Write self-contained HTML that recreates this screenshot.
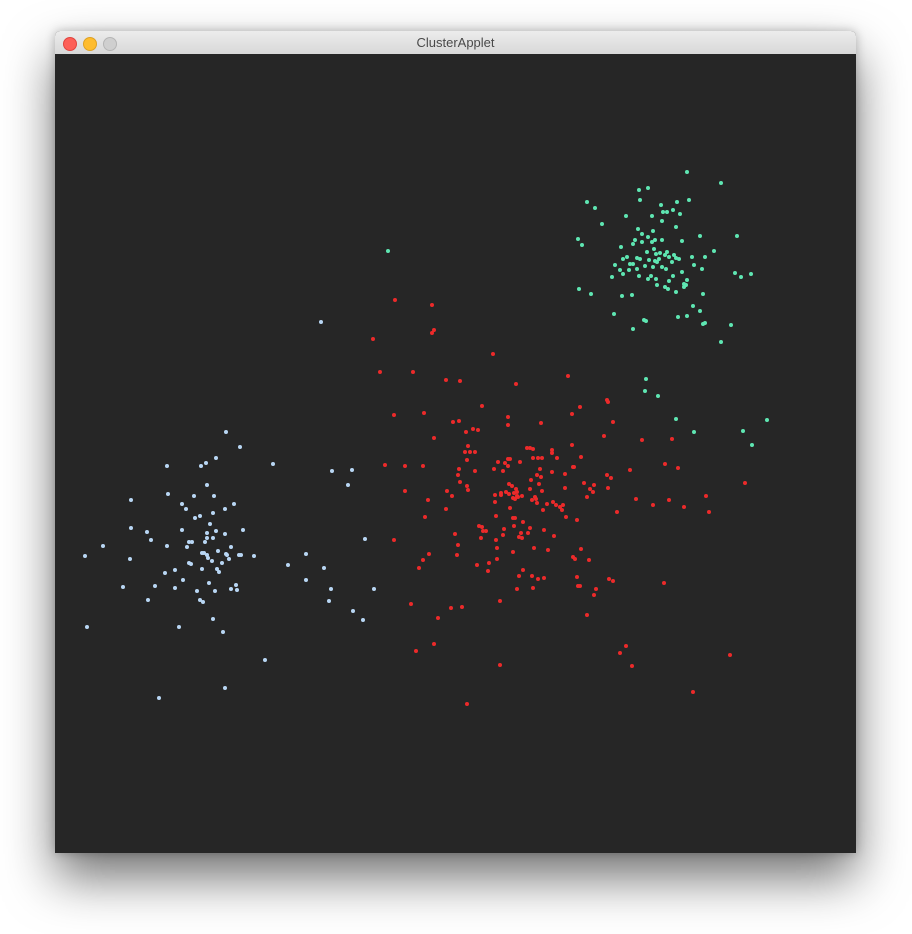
<!DOCTYPE html>
<html><head><meta charset="utf-8">
<style>
html,body{margin:0;padding:0;background:#fff;width:912px;height:934px;overflow:hidden;font-family:"Liberation Sans",sans-serif}
#win{position:absolute;left:55px;top:31px;width:801px;height:822px;box-shadow:0 25px 50px rgba(0,0,0,0.55),0 0 10px rgba(0,0,0,0.25);border-radius:5px 5px 0 0;overflow:hidden;background:#262626}
#title{position:absolute;left:0;top:0;width:801px;height:23px;background:linear-gradient(#ececec,#d8d8d8);border-bottom:1px solid #b8b8b8;text-align:center;font-size:13px;line-height:24px;color:#4a4a4a}
.tl{position:absolute;top:6px;width:12px;height:12px;border-radius:50%}
#canvas{position:absolute;left:0;top:23px;width:801px;height:799px;background:#262626}
#plot{position:absolute;left:1px;top:0}
</style></head><body>
<div id="win">
  <div id="title">ClusterApplet
    <div class="tl" style="left:8px;background:#fd5f57;border:0.5px solid #e0443e"></div>
    <div class="tl" style="left:28px;background:#febc2e;border:0.5px solid #dea123"></div>
    <div class="tl" style="left:48px;background:#cfcfcf;border:0.5px solid #b5b5b5"></div>
  </div>
  <div id="canvas">
    <svg id="plot" width="800" height="799"></svg>
  </div>
</div>
<script>
const greenX=[687,721,639,648,587,595,640,661,677,689,663,667,673,680,626,652,602,662,676,638,653,642,578,582,635,648,655,662,682,700,737,633,642,652,621,654,647,656,660,667,665,674,714,627,623,637,640,649,659,669,676,679,692,705,615,630,633,645,653,655,657,672,662,666,694,702,620,629,637,623,612,639,651,648,656,673,682,669,687,684,686,684,657,665,668,676,735,741,751,579,591,622,632,703,693,700,614,644,646,678,687,703,705,731,633,721,646,645,658,676,694,743,752,767,388];
const greenY=[172,183,190,188,202,208,200,205,202,200,212,212,210,214,216,216,224,221,227,229,231,234,239,245,240,237,240,240,241,236,236,244,242,242,247,249,252,254,253,252,255,255,251,257,259,258,259,260,259,257,258,259,257,257,265,264,264,266,267,261,262,262,267,269,265,269,270,270,269,274,277,276,276,279,279,276,272,281,280,284,285,287,285,287,289,292,273,277,274,289,294,296,295,294,306,311,314,320,321,317,316,324,323,325,329,342,379,391,396,419,432,431,445,420,251];
const blueX=[321,226,240,167,201,206,216,273,332,352,348,207,131,168,194,214,182,186,225,234,195,200,213,131,147,151,182,210,216,225,243,207,207,213,205,189,192,103,167,187,231,365,85,130,202,204,207,218,226,227,229,239,241,254,208,212,222,189,191,165,175,202,217,219,288,306,324,306,123,155,183,175,197,209,215,231,236,237,331,374,329,148,200,203,353,363,87,179,213,223,265,225,159];
const blueY=[322,432,447,466,466,463,458,464,471,470,485,485,500,494,496,496,504,509,509,504,518,516,513,528,532,540,530,524,531,534,530,533,538,538,542,542,542,546,546,547,547,539,556,559,553,553,555,551,554,555,559,555,555,556,558,561,563,563,564,573,570,569,569,572,565,554,568,580,587,586,580,588,591,583,591,589,585,590,589,589,601,600,600,602,611,620,627,627,619,632,660,688,698];
const redX=[395,432,434,432,373,493,380,413,446,460,516,568,482,580,394,424,453,459,473,478,466,508,508,541,572,607,608,613,604,642,672,434,468,465,470,475,467,527,530,533,552,552,572,385,405,423,459,458,460,475,498,505,508,510,508,520,494,503,533,538,542,557,581,540,537,541,552,565,573,574,630,665,678,745,607,611,531,539,509,512,530,542,584,594,590,593,608,565,587,405,447,452,467,468,428,495,501,501,506,509,514,516,517,517,513,515,518,522,495,532,535,536,537,547,553,556,560,563,562,543,510,636,653,669,684,706,709,617,446,425,496,513,515,566,577,523,514,530,544,479,482,483,486,504,521,528,503,519,522,554,481,455,394,496,458,497,513,534,548,581,429,457,423,497,573,575,589,419,477,489,488,523,519,532,538,544,517,533,577,578,580,609,613,596,594,664,500,411,451,462,587,438,434,416,500,626,620,632,730,693,467];
const redY=[300,305,330,333,339,354,372,372,380,381,384,376,406,407,415,413,422,421,429,430,432,417,425,423,414,400,402,422,436,440,439,438,446,452,452,452,460,448,448,449,450,453,445,465,466,466,469,475,482,471,462,463,459,459,466,462,469,471,458,458,458,458,457,469,475,477,472,474,467,467,470,464,468,483,475,478,480,484,484,486,489,491,483,485,489,492,488,488,497,491,491,496,486,490,500,495,493,495,492,494,493,489,492,496,498,499,497,496,502,500,497,499,503,504,502,505,507,505,510,510,508,499,505,500,507,496,512,512,509,517,516,518,518,517,520,522,526,528,530,526,527,531,531,529,533,533,535,537,538,536,538,534,540,540,545,548,552,548,550,549,554,555,560,559,557,559,560,568,565,563,571,570,576,576,579,578,589,588,577,586,586,579,581,589,595,583,601,604,608,607,615,618,644,651,665,646,653,666,655,692,704];

const sx=v=>v-56, sy=v=>v-54;
const svg=document.getElementById('plot');
const NS='http://www.w3.org/2000/svg';
function drawSeries(xs,ys,color,name){
  const g=document.createElementNS(NS,'g');
  
  
  for(let i=0;i<xs.length;i++){
    const c=document.createElementNS(NS,'circle');
    c.setAttribute('cx',sx(xs[i]));
    c.setAttribute('cy',sy(ys[i]));
    c.setAttribute('r',2);
    c.setAttribute('fill',color);
    
    
    g.appendChild(c);
  }
  svg.appendChild(g);
}
drawSeries(redX,redY,'#ec2a2a','red');
drawSeries(blueX,blueY,'#b8d6f4','blue');
drawSeries(greenX,greenY,'#5ee6b2','green');
</script>
</body></html>
